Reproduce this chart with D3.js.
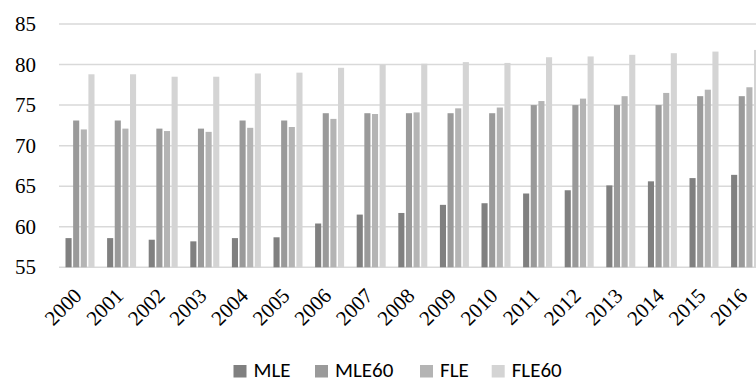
<!DOCTYPE html>
<html>
<head>
<meta charset="utf-8">
<script src="https://cdn.jsdelivr.net/npm/d3@7"></script>
</head>
<body style="margin:0">
<svg id="chart" width="756" height="381" font-family="Liberation Serif"></svg>
<script>
const years = ["2000","2001","2002","2003","2004","2005","2006","2007","2008","2009","2010","2011","2012","2013","2014","2015","2016"];
const seriesNames = ["MLE","MLE60","FLE","FLE60"];
const MLE   = [58.6,58.6,58.4,58.2,58.6,58.7,60.4,61.5,61.7,62.7,62.9,64.1,64.5,65.1,65.6,66.0,66.4];
const MLE60 = [73.1,73.1,72.1,72.1,73.1,73.1,74.0,74.0,74.0,74.0,74.0,75.0,75.0,75.0,75.0,76.1,76.1];
const FLE   = [72.0,72.1,71.8,71.7,72.2,72.3,73.3,73.9,74.1,74.6,74.7,75.5,75.8,76.1,76.5,76.9,77.2];
const FLE60 = [78.8,78.8,78.5,78.5,78.9,79.0,79.6,80.0,80.1,80.3,80.2,80.9,81.0,81.2,81.4,81.6,81.8];
const yTicks = [55,60,65,70,75,80,85];
const colors = ["#808080","#9a9a9a","#b4b4b4","#d4d4d4"];

const seriesValues = [MLE, MLE60, FLE, FLE60];
const svg = d3.select("#chart");

const step = 41.6;
const x0 = d3.scaleBand().domain(years).range([59.2, 59.2 + years.length * step]).padding(0);
const x1 = d3.scaleBand().domain(seriesNames).range([6.3, 35.3]).paddingInner(0.2).paddingOuter(0);
const y = d3.scaleLinear().domain([55, 85]).range([267.3, 24]);

// gridlines
svg.append("g").selectAll("line").data(yTicks).join("line")
  .attr("x1", 59).attr("x2", 770)
  .attr("y1", d => y(d)).attr("y2", d => y(d))
  .attr("stroke", "#d9d9d9").attr("stroke-width", 1.5);

// y labels
svg.selectAll("text.ylab").data(yTicks).join("text")
  .attr("class", "ylab")
  .attr("x", 36).attr("y", d => y(d) + 7)
  .attr("text-anchor", "end")
  .attr("font-family", "Liberation Serif")
  .attr("font-size", 21)
  .text(d => d);

// bars
const groups = svg.append("g").selectAll("g").data(years).join("g")
  .attr("transform", d => `translate(${x0(d)},0)`);
groups.selectAll("rect")
  .data((d, i) => seriesNames.map((s, k) => ({s, k, v: seriesValues[k][i]})))
  .join("rect")
  .attr("x", d => x1(d.s))
  .attr("width", x1.bandwidth())
  .attr("y", d => y(d.v))
  .attr("height", d => y(55) - y(d.v))
  .attr("fill", d => colors[d.k]);

// x labels
svg.selectAll("text.xlab").data(years).join("text")
  .attr("class", "xlab")
  .attr("transform", d => `translate(${x0(d) + x0.bandwidth()/2 + 3},297) rotate(-45)`)
  .attr("text-anchor", "end")
  .attr("font-family", "Liberation Serif")
  .attr("font-size", 21)
  .text(d => d);

// legend
const legendX = [233.5, 315, 420, 491.7];
const legend = svg.append("g").selectAll("g").data(seriesNames).join("g")
  .attr("transform", (d, k) => `translate(${legendX[k]},0)`);
legend.append("rect")
  .attr("x", 0).attr("y", 365).attr("width", 13).attr("height", 12.5)
  .attr("fill", (d, k) => colors[k]);
legend.append("text")
  .attr("x", 20).attr("y", 376.5)
  .attr("font-family", "Carlito")
  .attr("font-size", 21)
  .text(d => d);
</script>
</body>
</html>
